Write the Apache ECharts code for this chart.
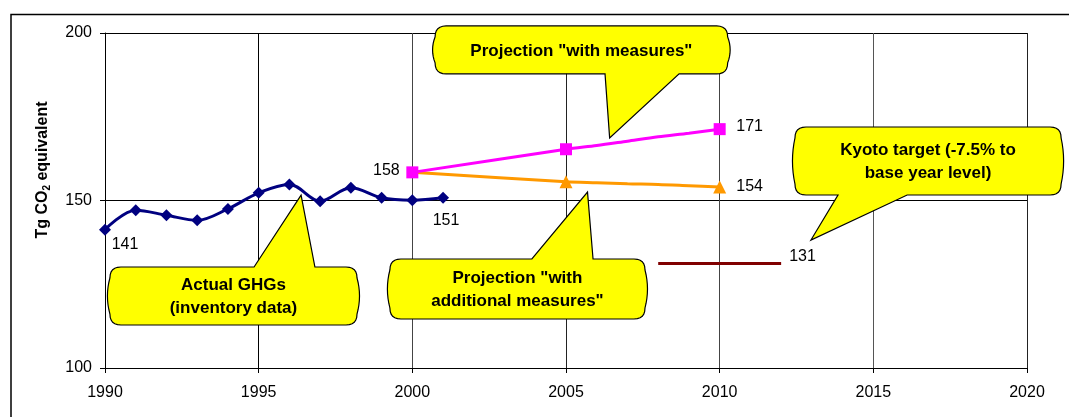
<!DOCTYPE html>
<html>
<head>
<meta charset="utf-8">
<script src="https://cdn.jsdelivr.net/npm/echarts@6/dist/echarts.min.js"></script>
<style>
html,body{margin:0;padding:0;background:#fff;}
#c{width:1069px;height:417px;}
</style>
</head>
<body>
<div id="c"></div>
<script>
// ---- data ----
const actualYears = [1990,1991,1992,1993,1994,1995,1996,1997,1998,1999,2000,2001];
const actualValues = [141.3,147.1,145.6,144.1,147.5,152.3,154.8,149.8,153.8,150.8,150.1,150.8];
const wmYears = [2000,2005,2006,2007,2008,2009,2010];
const wmValues = [158.4,165.3,166.4,167.7,169.0,170.1,171.3];
const wamYears = [2000,2005,2006,2007,2008,2009,2010];
const wamValues = [158.4,155.6,155.3,155.0,154.8,154.4,154.0];
const kyotoYears = [2008,2012];
const kyotoValues = [131.2,131.2];
const xTicks = [1990,1995,2000,2005,2010,2015,2020];
const yTicks = [100,150,200];

const FONT = "'Liberation Sans', Arial, sans-serif";

function pairs(xs, ys){ return xs.map((x,i)=>[x,ys[i]]); }

// labels for selected points
const actualData = pairs(actualYears, actualValues).map((p,i)=>{
  const d = {value:p};
  if (i===0) d.label = {show:true, formatter:'141', position:'inside', offset:[20,15]};
  if (i===actualYears.length-1) d.label = {show:true, formatter:'151', position:'inside', offset:[3,23]};
  return d;
});
const wmMarkYears = [2000,2005,2010];
const wmData = pairs(wmYears, wmValues).map((p,i)=>{
  const d = {value:p};
  if (wmMarkYears.indexOf(p[0])<0) d.symbol='none';
  if (p[0]===2000) d.label = {show:true, formatter:'158', position:'inside', offset:[-26,-2]};
  if (p[0]===2010) d.label = {show:true, formatter:'171', position:'inside', offset:[30,-3]};
  return d;
});
const wamData = pairs(wamYears, wamValues).map((p,i)=>{
  const d = {value:p};
  if (p[0]!==2005 && p[0]!==2010) d.symbol='none';
  if (p[0]===2010) d.label = {show:true, formatter:'154', position:'inside', offset:[30,-1]};
  return d;
});

const labelStyle = {color:'#000', fontSize:16, fontFamily:FONT};

const chart = echarts.init(document.getElementById('c'), null, {renderer:'canvas'});
chart.setOption({
  animation:false,
  backgroundColor:'#fff',
  grid:{left:105, right:42, top:33, bottom:49, containLabel:false},
  xAxis:{
    type:'value', min:xTicks[0], max:xTicks[xTicks.length-1], interval:5,
    axisLine:{show:true, onZero:false, lineStyle:{color:'#000', width:1}},
    axisTick:{show:true, length:5, lineStyle:{color:'#000'}},
    axisLabel:{color:'#000', fontSize:16, fontFamily:FONT, margin:17, formatter:v=>String(v)},
    splitLine:{show:true, showMinLine:false, lineStyle:{color:['#000','#444','#222','#444','#555','#222','#888'], width:1}}
  },
  yAxis:{
    type:'value', min:yTicks[0], max:yTicks[yTicks.length-1], interval:50,
    axisLine:{show:true, lineStyle:{color:'#000', width:1}},
    axisTick:{show:true, length:5, lineStyle:{color:'#000'}},
    axisLabel:{color:'#000', fontSize:16, fontFamily:FONT, margin:13},
    splitLine:{show:true, showMinLine:false, lineStyle:{color:['#000','#000','#888'], width:1}}
  },
  series:[
    {
      name:'Kyoto target', type:'line', data:pairs(kyotoYears,kyotoValues),
      symbol:'none', lineStyle:{color:'#800000', width:3}, z:3,
      endLabel:{show:true, formatter:'131', distance:8, offset:[0,-7], ...labelStyle}
    },
    {
      name:'With additional measures', type:'line', data:wamData, smooth:0.3,
      symbol:'triangle', symbolSize:13, showSymbol:true,
      lineStyle:{color:'#FF9900', width:3}, itemStyle:{color:'#FF9900'},
      label:labelStyle, z:3
    },
    {
      name:'With measures', type:'line', data:wmData, smooth:0.3,
      symbol:'rect', symbolSize:12,
      lineStyle:{color:'#FF00FF', width:3}, itemStyle:{color:'#FF00FF'},
      label:labelStyle, z:4
    },
    {
      name:'Actual GHGs', type:'line', data:actualData, smooth:0.35,
      symbol:'diamond', symbolSize:12,
      lineStyle:{color:'#000080', width:3}, itemStyle:{color:'#000080'},
      label:labelStyle, z:4
    }
  ]
});

// ---- callout annotations (anchored in data coordinates) ----
const callouts = [
  {box:[2000.74,202.1,2010.26,187.8], side:'bottom', base:[2006.27,2008.68], tip:[2006.42,168.7],
   text:'Projection "with measures"'},
  {box:[1990.16,130.15,1998.20,112.84], side:'top', base:[1994.85,1996.83], tip:[1996.38,151.6],
   text:'Actual GHGs\n(inventory data)'},
  {box:[1999.27,132.54,2007.57,114.63], side:'top', base:[2003.89,2005.88], tip:[2005.70,152.5],
   text:'Projection "with\nadditional measures"'},
  {box:[2012.45,171.94,2021.11,151.64], side:'bottom', base:[2013.85,2016.10], tip:[2012.97,138.2],
   text:'Kyoto target (-7.5% to\nbase year level)'}
];

function quad(out,p0,c,p1,n){
  for(let i=1;i<=n;i++){const t=i/n,u=1-t;
    out.push([u*u*p0[0]+2*u*t*c[0]+t*t*p1[0], u*u*p0[1]+2*u*t*c[1]+t*t*p1[1]]);}
}
function px(p){ return chart.convertToPixel({gridIndex:0}, p); }

const graphics = [];
callouts.forEach(co=>{
  const a = px([co.box[0],co.box[1]]), b = px([co.box[2],co.box[3]]);
  const x1=a[0], y1=a[1], x2=b[0], y2=b[1];
  const tb1 = px([co.base[0],co.box[1]])[0], tb2 = px([co.base[1],co.box[1]])[0];
  const tip = px(co.tip);
  const r=11, bg=5, my=(y1+y2)/2, mx=(x1+x2)/2;
  const pts=[[x1+r,y1]];
  if(co.side==='top'){ pts.push([tb1,y1],tip,[tb2,y1]); }
  pts.push([x2-r,y1]);
  quad(pts,[x2-r,y1],[x2,y1],[x2,y1+r],6);
  quad(pts,[x2,y1+r],[x2+bg,my],[x2,y2-r],8);
  quad(pts,[x2,y2-r],[x2,y2],[x2-r,y2],6);
  if(co.side==='bottom'){ pts.push([tb2,y2],tip,[tb1,y2]); }
  pts.push([x1+r,y2]);
  quad(pts,[x1+r,y2],[x1,y2],[x1,y2-r],6);
  quad(pts,[x1,y2-r],[x1-bg,my],[x1,y1+r],8);
  quad(pts,[x1,y1+r],[x1,y1],[x1+r,y1],6);
  graphics.push({type:'polygon', z:100, shape:{points:pts},
    style:{fill:'#FFFF00', stroke:'#000', lineWidth:1.2}});
  graphics.push({type:'text', z:101, x:mx, y:my+1,
    style:{text:co.text, fill:'#000', font:'bold 17px '+FONT, align:'center', verticalAlign:'middle', lineHeight:23}});
});

// y-axis title with subscript
graphics.push({type:'text', z:50, x:43, y:170, rotation:Math.PI/2,
  style:{text:'Tg CO{s|2} equivalent', fill:'#000', font:'bold 16px '+FONT, align:'center', verticalAlign:'middle',
    rich:{s:{fontSize:10, fontWeight:'bold', fontFamily:FONT, fill:'#000', padding:[8,0,0,0]}}}});
// outer chart frame (visible top and left edges)
graphics.push({type:'polyline', z:50, shape:{points:[[11,417],[11,14.5],[1069,14.5]]},
  style:{stroke:'#000', lineWidth:1.5, fill:null}});

chart.setOption({graphic:graphics});
</script>
</body>
</html>
